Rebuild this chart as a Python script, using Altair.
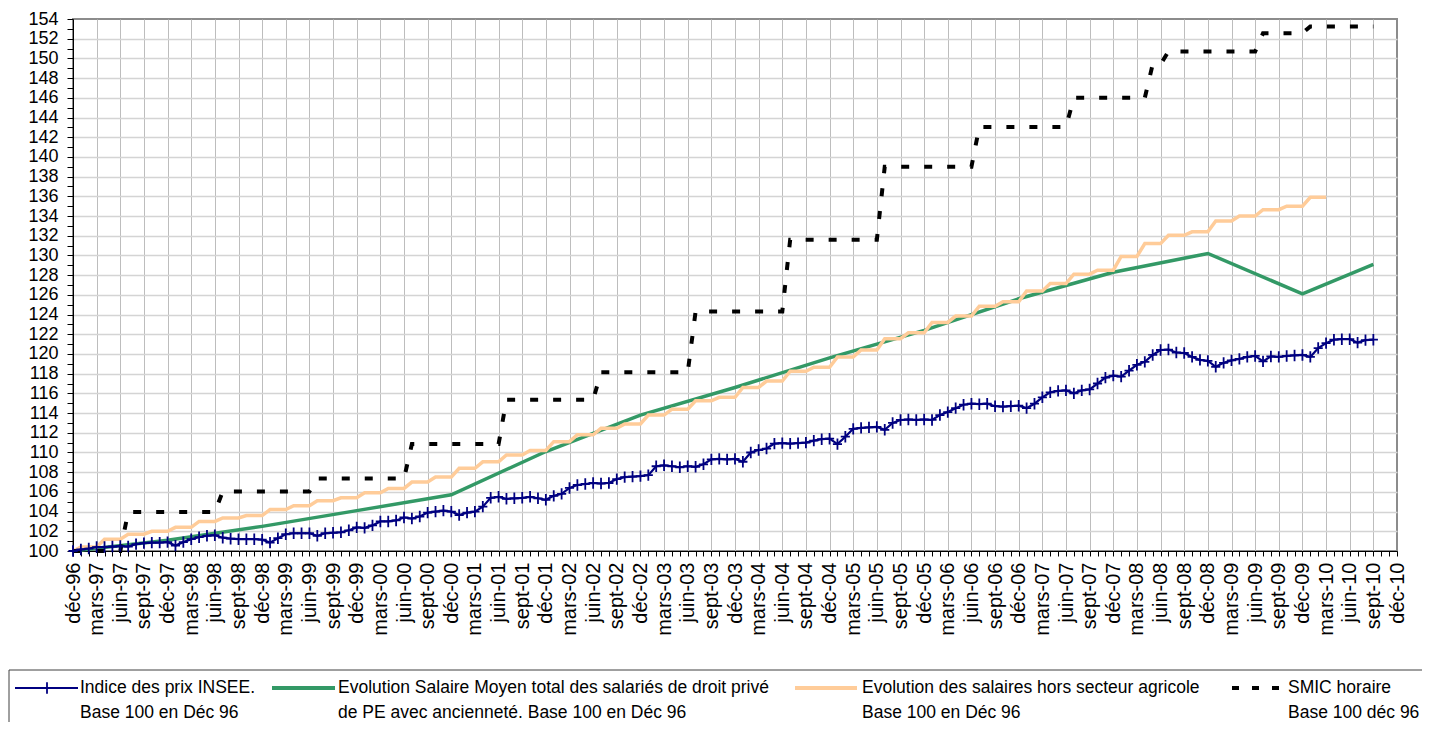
import json
import altair as alt
import pandas as pd

FONT = "Liberation Sans"

# ---------------- data ----------------
MONTH_LABELS = [
    "déc-96",
    "mars-97", "juin-97", "sept-97", "déc-97",
    "mars-98", "juin-98", "sept-98", "déc-98",
    "mars-99", "juin-99", "sept-99", "déc-99",
    "mars-00", "juin-00", "sept-00", "déc-00",
    "mars-01", "juin-01", "sept-01", "déc-01",
    "mars-02", "juin-02", "sept-02", "déc-02",
    "mars-03", "juin-03", "sept-03", "déc-03",
    "mars-04", "juin-04", "sept-04", "déc-04",
    "mars-05", "juin-05", "sept-05", "déc-05",
    "mars-06", "juin-06", "sept-06", "déc-06",
    "mars-07", "juin-07", "sept-07", "déc-07",
    "mars-08", "juin-08", "sept-08", "déc-08",
    "mars-09", "juin-09", "sept-09", "déc-09",
    "mars-10", "juin-10", "sept-10", "déc-10",
]

# Indice des prix INSEE, monthly from déc-96 (month 0) to sept-10 (month 165)
INSEE = [
    100.0,
    100.15, 100.25, 100.4, 100.4, 100.45, 100.5, 100.45, 100.7, 100.8, 100.85, 100.85, 100.9,
    100.55, 100.9, 101.2, 101.4, 101.55, 101.6, 101.35, 101.25, 101.2, 101.2, 101.2, 101.15,
    100.85, 101.3, 101.7, 101.8, 101.8, 101.8, 101.55, 101.8, 101.85, 101.9, 102.1, 102.4,
    102.35, 102.6, 103.0, 103.0, 103.1, 103.4, 103.3, 103.5, 103.9, 104.0, 104.1, 104.0,
    103.65, 103.9, 104.0, 104.5, 105.4, 105.5, 105.3, 105.35, 105.4, 105.5, 105.35, 105.2,
    105.6, 105.8, 106.4, 106.7, 106.8, 106.9, 106.85, 106.9, 107.3, 107.5, 107.55, 107.6,
    107.7, 108.6, 108.7, 108.6, 108.5, 108.6, 108.55, 108.8, 109.3, 109.35, 109.3, 109.35,
    109.06, 110.0, 110.25, 110.4, 110.9, 110.95, 110.9, 110.95, 111.0, 111.2, 111.35, 111.4,
    110.85, 111.6, 112.4, 112.5, 112.55, 112.6, 112.3, 113.0, 113.3, 113.35, 113.3, 113.35,
    113.3, 113.8, 114.1, 114.5, 114.85, 114.95, 114.9, 114.95, 114.7, 114.65, 114.7, 114.75,
    114.5, 114.95, 115.6, 116.1, 116.25, 116.3, 116.0, 116.3, 116.4, 117.0, 117.6, 117.8,
    117.7, 118.3, 118.9, 119.2, 119.9, 120.4, 120.45, 120.15, 120.1, 119.7, 119.4, 119.3,
    118.7, 119.1, 119.35, 119.5, 119.7, 119.8, 119.25, 119.75, 119.7, 119.8, 119.85, 119.9,
    119.7, 120.6, 121.1, 121.45, 121.5, 121.5, 121.15, 121.4, 121.45,
]

# Salaire moyen total (droit privé, PE avec ancienneté): yearly points
GREEN_MONTHS = [0, 12, 24, 36, 48, 60, 72, 84, 96, 108, 120, 132, 144, 156, 165]
GREEN_VALUES = [100.0, 101.1, 102.5, 104.1, 105.7, 110.1, 113.8, 116.6, 119.6,
                122.4, 125.6, 128.3, 130.2, 126.1, 129.1]

# Salaires hors secteur agricole: déc-96, then one level per quarter (Q1-97 .. Q1-10)
ORANGE_QUARTERS = [
    100.0,
    100.4, 101.2, 101.7, 102.0,
    102.4, 103.0, 103.35, 103.6,
    104.2, 104.6, 105.1, 105.4,
    105.9, 106.35, 107.0, 107.5,
    108.4, 109.05, 109.75, 110.2,
    111.1, 111.8, 112.45, 112.9,
    113.8, 114.4, 115.25, 115.6,
    116.6, 117.25, 118.25, 118.65,
    119.7, 120.4, 121.55, 122.15,
    123.2, 123.85, 124.85, 125.3,
    126.4, 127.15, 128.1, 128.5,
    129.9, 131.2, 132.05, 132.4,
    133.5, 134.0, 134.65, 135.0,
    135.9,
]
ORANGE_LAST_MONTH = 159

# SMIC horaire: level and first month at which it applies
SMIC_START = [0, 7, 19, 31, 43, 55, 67, 79, 91, 103, 115, 127, 137, 139, 151, 157]
SMIC_LEVEL = [100.0, 103.95, 106.05, 107.35, 110.85, 115.35, 118.15, 124.3, 131.6,
              139.0, 143.05, 146.0, 149.4, 150.7, 152.55, 153.25]
SMIC_LAST_MONTH = 165

LEGEND_LINE1 = ["Indice des prix INSEE.",
                "Evolution Salaire Moyen total des salariés de droit privé",
                "Evolution des salaires hors secteur agricole",
                "SMIC horaire"]
LEGEND_LINE2 = ["Base 100 en Déc 96",
                "de PE avec ancienneté. Base 100 en Déc 96",
                "Base 100 en Déc 96",
                "Base 100 déc  96"]

# ---------------- tables ----------------
insee_df = pd.DataFrame({"m": list(range(len(INSEE))), "v": INSEE})
green_df = pd.DataFrame({"m": GREEN_MONTHS, "v": GREEN_VALUES})
orange_df = pd.DataFrame({"m": list(range(ORANGE_LAST_MONTH + 1)),
                          "v": [ORANGE_QUARTERS[(i + 2) // 3] for i in range(ORANGE_LAST_MONTH + 1)]})
smic_rows = []
for i in range(SMIC_LAST_MONTH + 1):
    lvl = SMIC_LEVEL[0]
    for s, l in zip(SMIC_START, SMIC_LEVEL):
        if i >= s:
            lvl = l
    smic_rows.append({"m": i, "v": lvl})
smic_df = pd.DataFrame(smic_rows)

# ---------------- layout ----------------
W, H = 1324, 532
PAD_L, PAD_T, PAD_R, PAD_B = 65, 11, 25, 171
OX, OY = 8 + PAD_L, 8 + PAD_T   # page position of the plot origin

x_scale = alt.Scale(domain=[0, 168], nice=False, zero=False)
y_scale = alt.Scale(domain=[100, 154], nice=False, zero=False)

labels_js = json.dumps(MONTH_LABELS, ensure_ascii=False)
x_axis = alt.Axis(
    title=None,
    values=list(range(0, 169)),
    labelExpr=f"datum.value % 3 === 0 ? {labels_js}[round(datum.value / 3)] : ''",
    labelAngle=270, labelFont=FONT, labelFontSize=20, labelColor="black",
    labelPadding=6, labelOverlap=False, labelFlush=False, labelBound=False,
    tickSize=5, tickColor="black", tickWidth=1,
    domainColor="black", domainWidth=1,
    grid=True, gridColor="#bdbdbd", gridWidth=1,
    gridOpacity={"condition": {"test": "datum.value % 3 === 0 && datum.value > 0 && datum.value < 168",
                               "value": 1}, "value": 0},
)
y_axis = alt.Axis(
    title=None,
    values=list(range(100, 155)),
    labelExpr="datum.value % 2 === 0 ? datum.label : ''",
    labelFont=FONT, labelFontSize=18, labelColor="black", labelPadding=9,
    labelOverlap=False, labelFlush=False, labelBound=False,
    tickSize=6, tickColor="black", tickWidth=1,
    domainColor="black", domainWidth=1,
    grid=True, gridColor="#d4d4d4", gridWidth=1.5,
    gridOpacity={"condition": {"test": "datum.value % 2 === 0 && datum.value > 100 && datum.value < 154",
                               "value": 1}, "value": 0},
)


def enc(ch):
    return ch.encode(x=alt.X("m:Q", scale=x_scale, axis=x_axis),
                     y=alt.Y("v:Q", scale=y_scale, axis=y_axis))


green = enc(alt.Chart(green_df).mark_line(color="#339966", strokeWidth=3.5))
orange = enc(alt.Chart(orange_df).mark_line(color="#FFCC99", strokeWidth=3.5))
smic = enc(alt.Chart(smic_df).mark_line(color="black", strokeWidth=4, strokeDash=[8, 15]))
insee_line = enc(alt.Chart(insee_df).mark_line(color="#000080", strokeWidth=2.2))
PLUS = "M-0.8,0L0.8,0M0,-1L0,1"
insee_pts = enc(alt.Chart(insee_df).mark_point(shape=PLUS, size=130, filled=False,
                                               color="#000080", strokeWidth=1.8, opacity=1))

# ---------------- legend (drawn below the plot) ----------------
one = pd.DataFrame({"k": [0]})


def hline(x1, x2, y, color, width, dash=None):
    kw = dict(color=color, strokeWidth=width)
    if dash:
        kw["strokeDash"] = dash
    return alt.Chart(one).mark_rule(**kw).encode(
        x=alt.value(x1 - OX), x2=alt.value(x2 - OX), y=alt.value(y - OY))


def txt(x, y, s):
    return alt.Chart(pd.DataFrame({"t": [s]})).mark_text(
        align="left", baseline="middle", font=FONT, fontSize=17.5, color="black"
    ).encode(x=alt.value(x - OX), y=alt.value(y - OY), text="t:N")


LY1, LY2 = 688, 713
legend_box = alt.Chart(one).mark_rect(fillOpacity=0, stroke="#404040", strokeWidth=1).encode(
    x=alt.value(9 - OX), x2=alt.value(1460 - OX), y=alt.value(670 - OY), y2=alt.value(780 - OY))
legend_layers = [
    legend_box,
    hline(15, 78, LY1, "#000080", 2.2),
    alt.Chart(one).mark_point(shape=PLUS, size=130, filled=False, color="#000080",
                              strokeWidth=1.8, opacity=1).encode(
        x=alt.value(47 - OX), y=alt.value(LY1 - OY)),
    hline(272, 335, LY1, "#339966", 4),
    hline(795, 857, LY1, "#FFCC99", 4),
    hline(1232, 1279, LY1, "black", 4, [7, 13]),
]
for xpos, l1, l2 in zip([80, 338, 862, 1288], LEGEND_LINE1, LEGEND_LINE2):
    legend_layers.append(txt(xpos, LY1, l1))
    legend_layers.append(txt(xpos, LY2, l2))

chart = alt.layer(green, orange, smic, insee_line, insee_pts, *legend_layers).properties(
    width=W, height=H,
    padding={"left": PAD_L, "top": PAD_T, "right": PAD_R, "bottom": PAD_B},
    autosize=alt.AutoSizeParams(type="none"),
).configure_view(stroke="#8c8c8c", strokeWidth=2)

chart.save("out.html", embed_options={"renderer": "svg", "actions": False})
